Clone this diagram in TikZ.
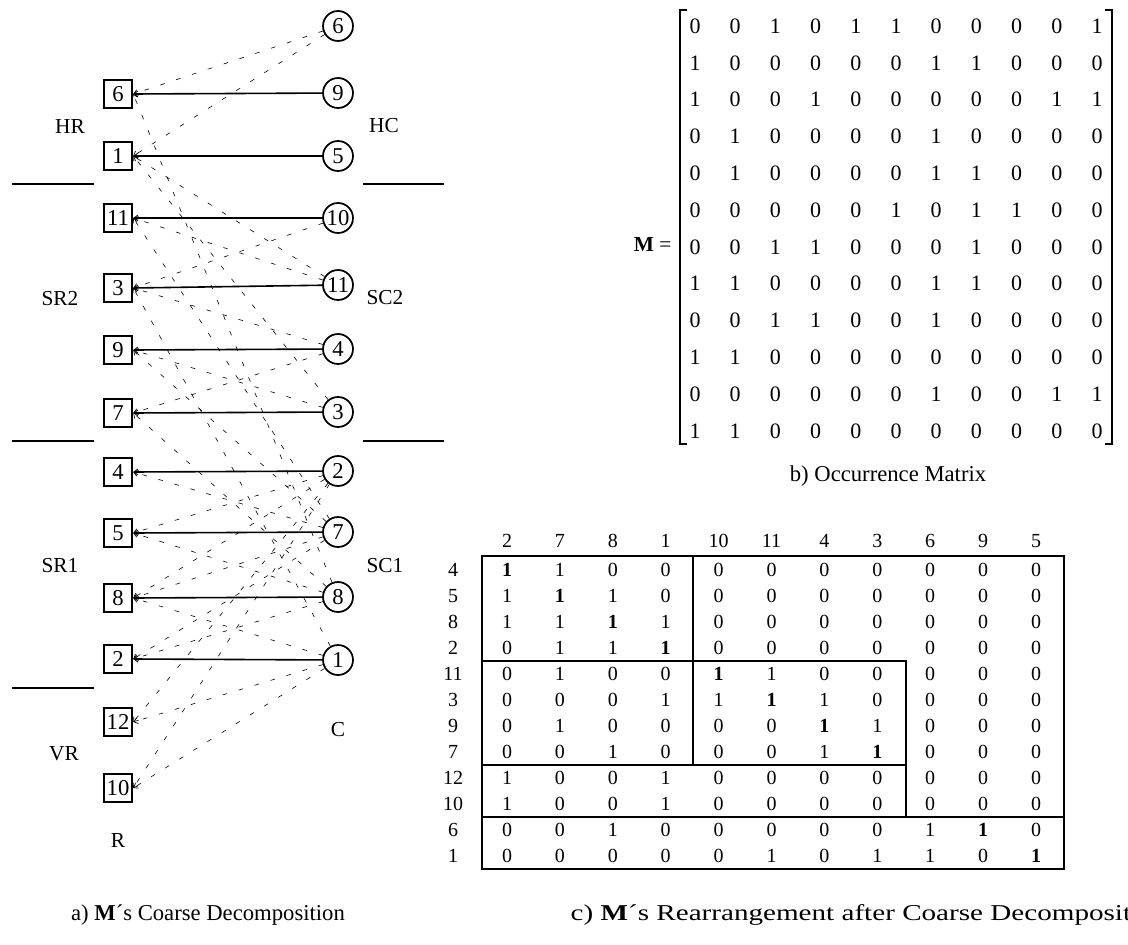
\documentclass[tikz,border=0pt]{standalone}
\usepackage{fontspec}
\setmainfont{Liberation Serif}
\usetikzlibrary{arrows.meta}

\newcommand\bo{\textbf{1}}
\tikzset{
  rnode/.style={draw, line width=1.4pt, minimum size=21.5pt, inner sep=0pt, font=\fontsize{17}{17}\selectfont},
  cnode/.style={draw, circle, line width=1.3pt, minimum size=22.5pt, inner sep=0pt, font=\fontsize{17}{17}\selectfont},
  matchedge/.style={line width=1.2pt, -{Straight Barb[length=3pt,width=4.5pt,line width=0.6pt]}},
  coarseedge/.style={line width=0.45pt, dash pattern=on 3.5pt off 9pt, -{Straight Barb[length=3pt,width=4.5pt,line width=0.5pt]}},
  sepline/.style={line width=1.3pt},
  lbl/.style={font=\fontsize{16}{16}\selectfont},
  caption/.style={font=\fontsize{17}{17}\selectfont},
  cell/.style={font=\fontsize{15}{15}\selectfont},
  entry/.style={font=\fontsize{16.5}{16.5}\selectfont},
}

\begin{document}
\begin{tikzpicture}[x=0.75pt,y=-0.75pt]
\useasboundingbox (0,0) rectangle (1128,945);

% a) bipartite graph
\foreach \r/\y in {6/94,1/156,11/218,3/288,9/350,7/413,4/472,5/533,8/598,2/659,12/722,10/788}
  \node[rnode] (r\r) at (118,\y) {\r};
\foreach \c/\y in {6/26,9/93,5/156,10/218,11/285,4/349,3/412,2/471,7/532,8/597,1/660}
  \node[cnode] (c\c) at (338,\y) {\c};

\foreach \r/\cs in {1/{3,6,11},2/{7,8},3/{1,4,10},4/{7},5/{2,8},6/{6,8},7/{4,8},8/{1,2,7},9/{3,7},10/{1,2},11/{7,11},12/{1,2}}
  \foreach \c in \cs
    \draw[coarseedge] (c\c) -- (r\r.east);
\foreach \r/\c in {6/9,1/5,11/10,3/11,9/4,7/3,4/2,5/7,8/8,2/1}
  \draw[matchedge] (c\c) -- (r\r.east);

\node[lbl] (hr) at (70,127) {HR};
\node[lbl] (hc) at (384,126) {HC};
\node[lbl] (sr2) at (60,299) {SR2};
\node[lbl] (sc2) at (385,298) {SC2};
\node[lbl] (sr1) at (60,566) {SR1};
\node[lbl] (sc1) at (385,566) {SC1};
\node[lbl] (vr) at (64,754) {VR};
\node[lbl] (clbl) at (338,730) {C};
\node[lbl] (rlbl) at (118,841) {R};
\foreach \y in {184,441,688}
  \draw[sepline] (12,\y) -- (94,\y);
\foreach \y in {184,441}
  \draw[sepline] (363,\y) -- (444,\y);

% b) occurrence matrix
\node[lbl, anchor=east] (meq) at (676,245) {\textbf{M} =};
\foreach \row [count=\i] in {{0,0,1,0,1,1,0,0,0,0,1},{1,0,0,0,0,0,1,1,0,0,0},{1,0,0,1,0,0,0,0,0,1,1},{0,1,0,0,0,0,1,0,0,0,0},{0,1,0,0,0,0,1,1,0,0,0},{0,0,0,0,0,1,0,1,1,0,0},{0,0,1,1,0,0,0,1,0,0,0},{1,1,0,0,0,0,1,1,0,0,0},{0,0,1,1,0,0,1,0,0,0,0},{1,1,0,0,0,0,0,0,0,0,0},{0,0,0,0,0,0,1,0,0,1,1},{1,1,0,0,0,0,0,0,0,0,0}}
  \foreach \v [count=\j] in \row
    \node[entry] (m\i-\j) at ({695+40.2*(\j-1)},{26+36.8*(\i-1)}) {\v};
\draw[line width=1.2pt] (687,10) -- (680,10) -- (680,444) -- (687,444);
\draw[line width=1.2pt] (1105,10) -- (1112,10) -- (1112,444) -- (1105,444);
\node[caption] (capb) at (888,476) {b) Occurrence Matrix};

% c) rearranged matrix
\foreach \h [count=\j] in {2,7,8,1,10,11,4,3,6,9,5}
  \node[cell] (h\j) at ({507+52.9*(\j-1)},541) {\h};
\foreach \lab/\row [count=\i] in {4/{\bo,1,0,0,0,0,0,0,0,0,0},5/{1,\bo,1,0,0,0,0,0,0,0,0},8/{1,1,\bo,1,0,0,0,0,0,0,0},2/{0,1,1,\bo,0,0,0,0,0,0,0},11/{0,1,0,0,\bo,1,0,0,0,0,0},3/{0,0,0,1,1,\bo,1,0,0,0,0},9/{0,1,0,0,0,0,\bo,1,0,0,0},7/{0,0,1,0,0,0,1,\bo,0,0,0},12/{1,0,0,1,0,0,0,0,0,0,0},10/{1,0,0,1,0,0,0,0,0,0,0},6/{0,0,1,0,0,0,0,0,1,\bo,0},1/{0,0,0,0,0,1,0,1,1,0,\bo}} {
  \node[cell] (l\i) at (453,{570+26*(\i-1)}) {\lab};
  \foreach \v [count=\j] in \row
    \node[cell] (t\i-\j) at ({507+52.9*(\j-1)},{570+26*(\i-1)}) {\v};
}
\draw[line width=1.2pt] (482,556) rectangle (1064,869);
\draw[line width=1.2pt] (693,556) -- (693,765);
\draw[line width=1.2pt] (482,661) -- (906,661) -- (906,817);
\draw[line width=1.2pt] (482,765) -- (906,765);
\draw[line width=1.2pt] (482,817) -- (1064,817);

\node[caption] (capa) at (208,915) {a) \textbf{M}´s Coarse Decomposition};
\node[caption, anchor=west] (capc) at (566,915) {\scalebox{1.285}[1]{c) \textbf{M}´s Rearrangement after Coarse Decomposition}};
\end{tikzpicture}
\end{document}
